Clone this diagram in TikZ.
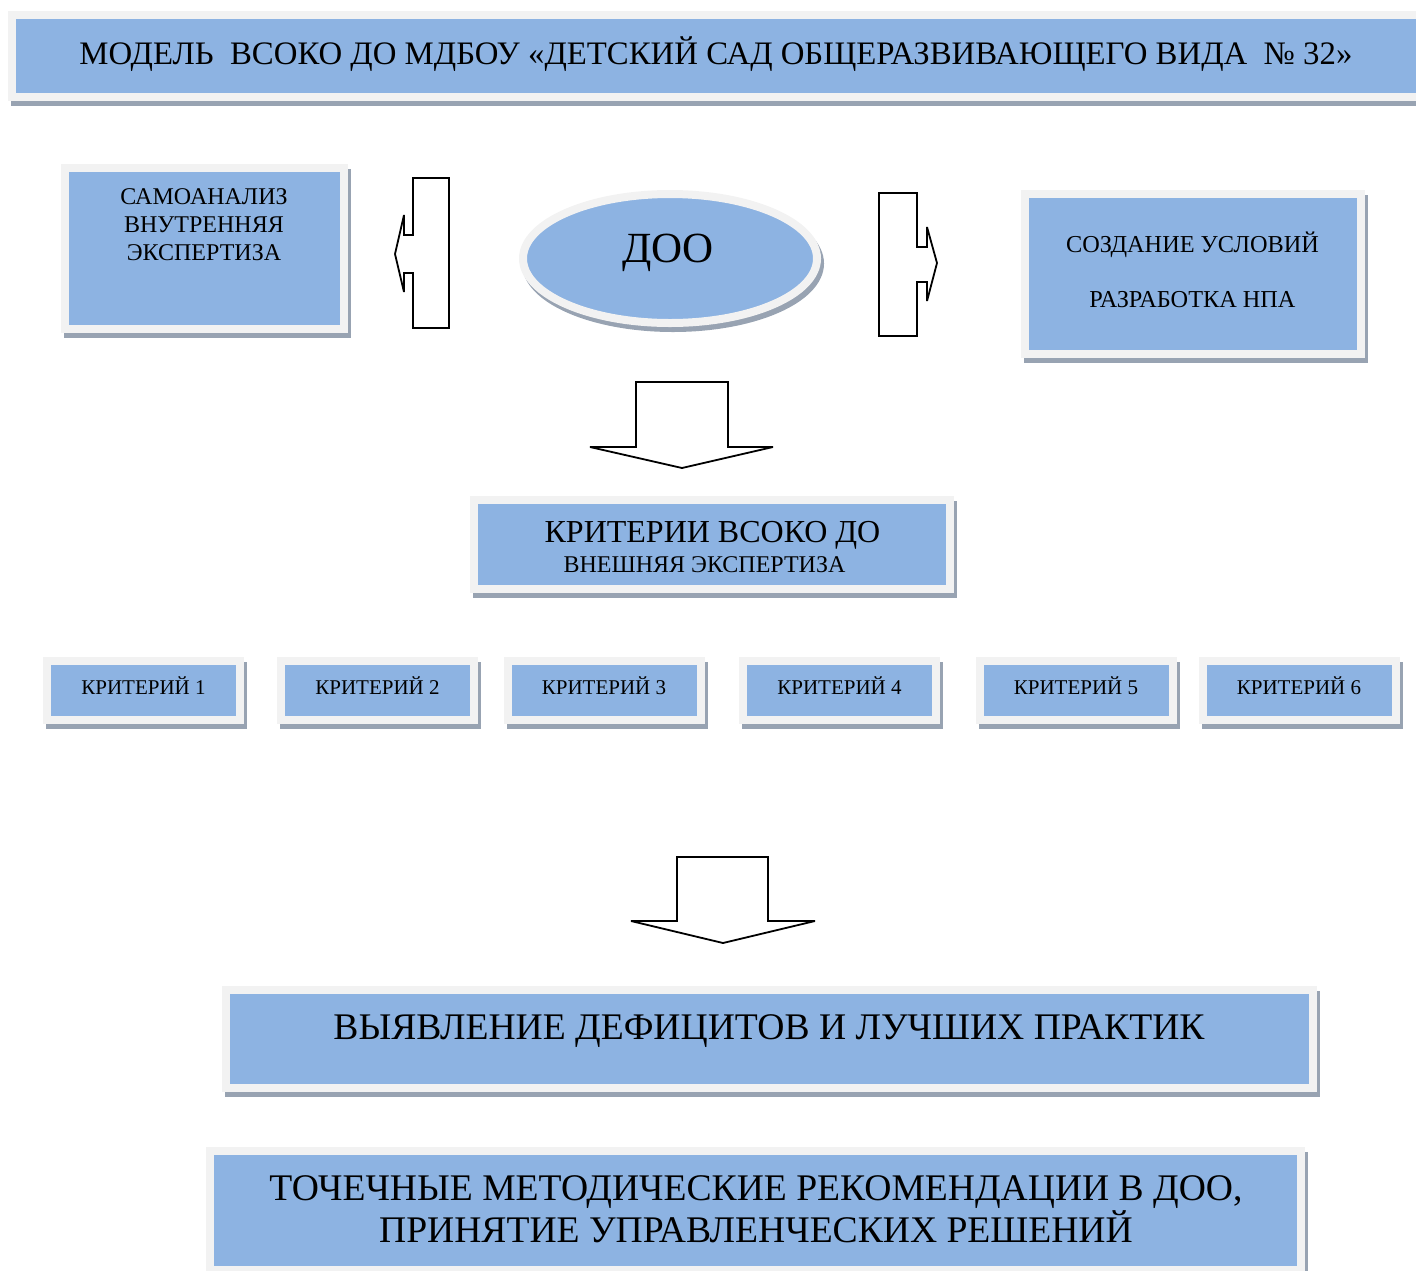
\documentclass[tikz,border=0pt]{standalone}
\usepackage{fontspec}
\setmainfont{Liberation Serif}
\usetikzlibrary{shapes.geometric}
\definecolor{boxblue}{RGB}{141,179,226}
\definecolor{framegray}{RGB}{242,242,242}
\definecolor{shadowgray}{RGB}{152,163,178}
\newcommand{\fsz}[1]{\fontsize{#1}{#1}\selectfont}
\tikzset{
  box/.style={rectangle, fill=boxblue, draw=framegray, line width=8pt, inner sep=0pt, outer sep=0pt,
    text height=.8em, text depth=0pt,
    preaction={draw=shadowgray, fill=shadowgray, transform canvas={shift={(3pt,-5pt)}}}},
  oval/.style={box, ellipse},
  txt/.style={anchor=base, inner sep=0pt},
  blockarrow/.style={draw=black, fill=white, line width=1.8pt, line join=miter, miter limit=2},
}
\begin{document}
\begin{tikzpicture}[x=1pt, y=-1pt]
      \useasboundingbox (0,0) rectangle (1416,1270);
      \clip (0,0) rectangle (1416,1270);
      % title
      \node[box, minimum width=1414pt, minimum height=82pt] (title) at (719,56) {};
      \node[txt, font=\fsz{32.8}] (titletext) at (716,64) {МОДЕЛЬ\ \ ВСОКО ДО МДБОУ «ДЕТСКИЙ САД ОБЩЕРАЗВИВАЮЩЕГО ВИДА\ \ № 32»};
      % upper row
      \node[box, minimum width=279pt, minimum height=161pt] (samo) at (204.5,248.5) {};
      \node[txt, font=\fsz{24}] (samo1) at (204,204) {САМОАНАЛИЗ};
      \node[txt, font=\fsz{24}] (samo2) at (204,232) {ВНУТРЕННЯЯ};
      \node[txt, font=\fsz{24}] (samo3) at (204,260) {ЭКСПЕРТИЗА};
      \node[oval, minimum width=294pt, minimum height=129pt] (doo) at (670,258.5) {};
      \node[txt, font=\fsz{43}] (dootext) at (668,262) {ДОО};
      \node[box, minimum width=336pt, minimum height=160pt] (uslov) at (1193,274) {};
      \node[txt, font=\fsz{24.3}] (uslov1) at (1192.5,252) {СОЗДАНИЕ УСЛОВИЙ};
      \node[txt, font=\fsz{24.3}] (uslov2) at (1192.5,307) {РАЗРАБОТКА НПА};
      \draw[blockarrow] (449,178) -- (413,178) -- (413,235) -- (404,235) -- (404,215) -- (395,254)
        -- (404,292) -- (404,273) -- (413,273) -- (413,328) -- (449,328) -- cycle;
      \draw[blockarrow] (879,193) -- (917,193) -- (917,247) -- (927,247) -- (927,227) -- (937,263)
        -- (927,301) -- (927,282) -- (917,282) -- (917,336) -- (879,336) -- cycle;
      \draw[blockarrow] (636,382) -- (728,382) -- (728,447) -- (773,447) -- (682,468) -- (590,447) -- (636,447) -- cycle;
      % criteria
      \node[box, minimum width=476pt, minimum height=89pt] (krit) at (712,544.5) {};
      \node[txt, font=\fsz{32}] (krit1) at (712.5,542) {КРИТЕРИИ ВСОКО ДО};
      \node[txt, font=\fsz{24}] (krit2) at (704.5,572) {ВНЕШНЯЯ ЭКСПЕРТИЗА};
      \foreach \x [count=\i] in {143.5,377.5,604,839.5,1076,1299}
        \node[box, minimum width=193pt, minimum height=59pt, font=\fsz{21}] (crit\i) at (\x,690.5) {КРИТЕРИЙ \i};
      \draw[blockarrow] (677,857) -- (768,857) -- (768,921) -- (815,921) -- (723,943) -- (631,921) -- (677,921) -- cycle;
      % results
      \node[box, minimum width=1087pt, minimum height=98pt] (deficit) at (769.5,1039) {};
      \node[txt, font=\fsz{37.6}] (deficittext) at (769,1039) {ВЫЯВЛЕНИЕ ДЕФИЦИТОВ И ЛУЧШИХ ПРАКТИК};
      \node[box, minimum width=1091pt, minimum height=119pt] (tochech) at (755.5,1210.5) {};
      \node[txt, font=\fsz{37.6}] (tochech1) at (756,1200) {ТОЧЕЧНЫЕ МЕТОДИЧЕСКИЕ РЕКОМЕНДАЦИИ В ДОО,};
      \node[txt, font=\fsz{37.6}] (tochech2) at (756,1242) {ПРИНЯТИЕ УПРАВЛЕНЧЕСКИХ РЕШЕНИЙ};
\end{tikzpicture}
\end{document}
